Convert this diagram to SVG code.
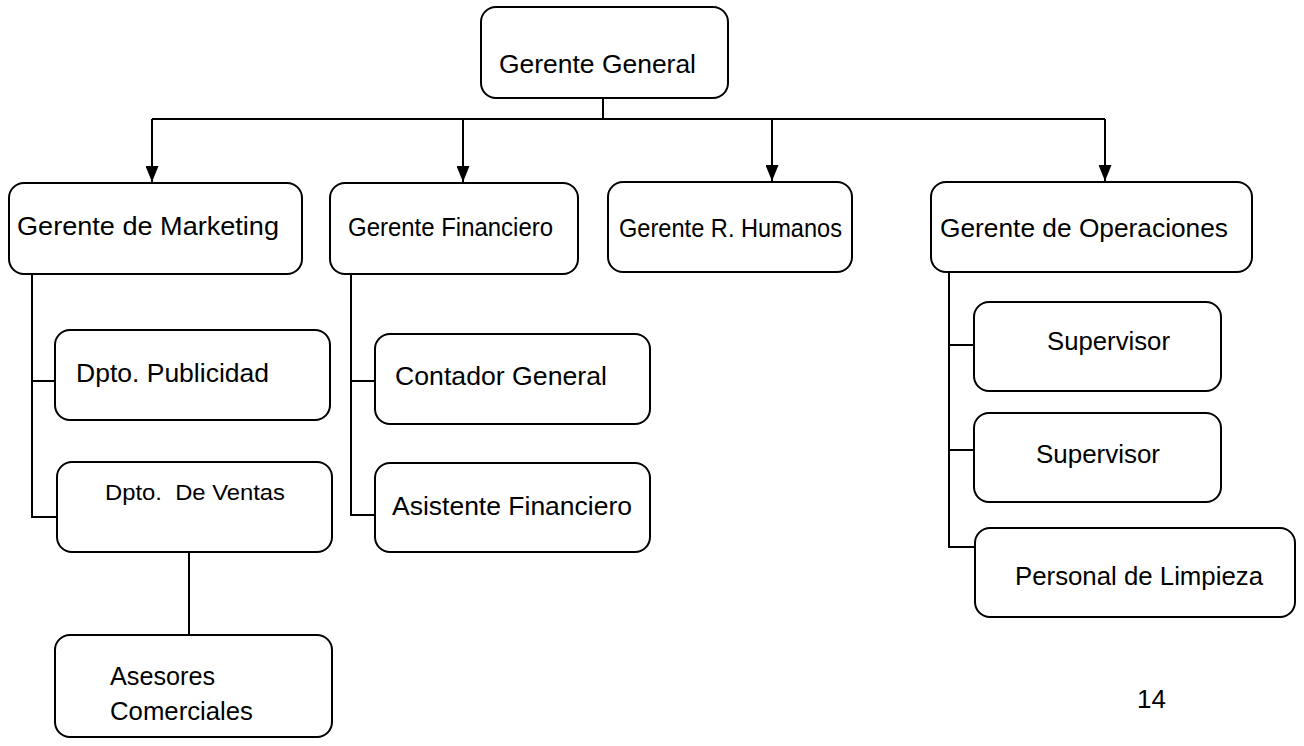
<svg xmlns="http://www.w3.org/2000/svg" width="1304" height="746" viewBox="0 0 1304 746">
<defs>
<marker id="arr" markerWidth="13" markerHeight="16" refX="6.5" refY="16" orient="0" markerUnits="userSpaceOnUse">
<path d="M0,0 L13,0 L6.5,16 Z" fill="#000"/>
</marker>
<style>
.box{fill:#fff;stroke:#000;stroke-width:2}
.t{font-family:"Liberation Sans",Arial,sans-serif;font-size:26px;fill:#000}
.s{font-size:22px}
.c{fill:none;stroke:#000;stroke-width:2}
</style>
</defs>
<rect width="1304" height="746" fill="#fff"/>
<g id="connectors">
<path class="c" d="M603,98 V119 M152,119 H1105"/>
<path class="c" d="M152,119 V182" marker-end="url(#arr)"/>
<path class="c" d="M463,119 V182" marker-end="url(#arr)"/>
<path class="c" d="M772,119 V181" marker-end="url(#arr)"/>
<path class="c" d="M1105,119 V181" marker-end="url(#arr)"/>
<path class="c" d="M32,274 V517 H57 M32,381 H55"/>
<path class="c" d="M189,552 V635"/>
<path class="c" d="M351,274 V515 H375 M351,381 H375"/>
<path class="c" d="M949,272 V547 H975 M949,345 H974 M949,450 H974"/>
</g>
<g id="gerente-general"><rect class="box" x="481" y="7" width="247" height="91" rx="15"/><text class="t" x="499" y="73" textLength="197" lengthAdjust="spacingAndGlyphs">Gerente General</text></g>
<g id="gerente-marketing"><rect class="box" x="9" y="183" width="293" height="91" rx="15"/><text class="t" x="17" y="235" textLength="262" lengthAdjust="spacingAndGlyphs">Gerente de Marketing</text></g>
<g id="gerente-financiero"><rect class="box" x="330" y="183" width="248" height="91" rx="15"/><text class="t" x="348" y="236" textLength="205" lengthAdjust="spacingAndGlyphs">Gerente Financiero</text></g>
<g id="gerente-rrhh"><rect class="box" x="608" y="182" width="244" height="90" rx="15"/><text class="t" x="619" y="237" textLength="223" lengthAdjust="spacingAndGlyphs">Gerente R. Humanos</text></g>
<g id="gerente-operaciones"><rect class="box" x="931" y="182" width="321" height="90" rx="15"/><text class="t" x="940" y="237" textLength="288" lengthAdjust="spacingAndGlyphs">Gerente de Operaciones</text></g>
<g id="dpto-publicidad"><rect class="box" x="55" y="330" width="275" height="90" rx="15"/><text class="t" x="76" y="382" textLength="193" lengthAdjust="spacingAndGlyphs">Dpto. Publicidad</text></g>
<g id="dpto-ventas"><rect class="box" x="57" y="462" width="275" height="90" rx="15"/><text class="t s" x="105" y="500" xml:space="preserve" textLength="180" lengthAdjust="spacingAndGlyphs">Dpto.  De Ventas</text></g>
<g id="asesores"><rect class="box" x="55" y="635" width="277" height="102" rx="15"/><text class="t" x="110" y="685" textLength="105" lengthAdjust="spacingAndGlyphs">Asesores</text><text class="t" x="110" y="720" textLength="143" lengthAdjust="spacingAndGlyphs">Comerciales</text></g>
<g id="contador"><rect class="box" x="375" y="334" width="275" height="90" rx="15"/><text class="t" x="395" y="385" textLength="212" lengthAdjust="spacingAndGlyphs">Contador General</text></g>
<g id="asistente"><rect class="box" x="375" y="463" width="275" height="89" rx="15"/><text class="t" x="392" y="515" textLength="240" lengthAdjust="spacingAndGlyphs">Asistente Financiero</text></g>
<g id="supervisor-1"><rect class="box" x="974" y="302" width="247" height="89" rx="15"/><text class="t" x="1047" y="350" textLength="123" lengthAdjust="spacingAndGlyphs">Supervisor</text></g>
<g id="supervisor-2"><rect class="box" x="974" y="413" width="247" height="89" rx="15"/><text class="t" x="1036" y="463" textLength="124" lengthAdjust="spacingAndGlyphs">Supervisor</text></g>
<g id="personal-limpieza"><rect class="box" x="975" y="528" width="320" height="89" rx="15"/><text class="t" x="1015" y="585" textLength="248" lengthAdjust="spacingAndGlyphs">Personal de Limpieza</text></g>
<text class="t" x="1137" y="708" style="font-size:26px">14</text>
</svg>
